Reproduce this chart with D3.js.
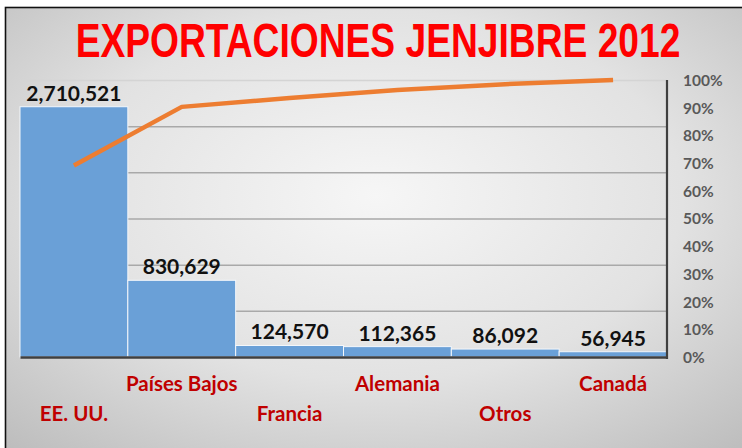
<!DOCTYPE html>
<html>
<head>
<meta charset="utf-8">
<script src="https://cdn.jsdelivr.net/npm/d3@7/dist/d3.min.js"></script>
<style>
  html, body { margin: 0; padding: 0; background: #fff; }
  svg { display: block; }
</style>
</head>
<body>
<svg id="chart" width="742" height="448"></svg>
<script>
const titleText = 'EXPORTACIONES JENJIBRE 2012'
const categories = ['EE. UU.', 'Países Bajos', 'Francia', 'Alemania', 'Otros', 'Canadá']
const exports2012 = [2710521, 830629, 124570, 112365, 86092, 56945]
const cumulativePct = [0.691, 0.903, 0.935, 0.964, 0.985, 1.0]
const leftTicks = [0, 500000, 1000000, 1500000, 2000000, 2500000, 3000000]
const rightTicks = [0, 0.1, 0.2, 0.3, 0.4, 0.5, 0.6, 0.7, 0.8, 0.9, 1.0]

const width = 742
const height = 448
const plot = { left: 20, right: 667, top: 80, bottom: 357 }

const svg = d3.select('#chart')

// background with soft radial shading
const defs = svg.append('defs')
const grad = defs.append('radialGradient')
  .attr('id', 'bg')
  .attr('cx', '50%').attr('cy', '42%').attr('r', '75%')
grad.append('stop').attr('offset', '0%').attr('stop-color', '#f6f6f6')
grad.append('stop').attr('offset', '55%').attr('stop-color', '#e2e2e2')
grad.append('stop').attr('offset', '100%').attr('stop-color', '#bdbdbd')

svg.append('rect')
  .attr('x', 5.5).attr('y', 7.5)
  .attr('width', width).attr('height', height)
  .attr('fill', 'url(#bg)')
  .attr('stroke', '#111')
  .attr('stroke-width', 1.6)

const xScale = d3.scaleBand()
  .domain(categories)
  .range([plot.left, plot.right])
  .padding(0)

const yScale = d3.scaleLinear()
  .domain([0, 3000000])
  .range([plot.bottom, plot.top])

const yPct = d3.scaleLinear()
  .domain([0, 1])
  .range([plot.bottom, plot.top])

// gridlines from the (hidden) primary axis
const yGrid = d3.axisLeft(yScale)
  .tickValues(leftTicks.slice(1))
  .tickSize(-(plot.right - plot.left))
  .tickFormat('')

svg.append('g')
  .attr('transform', `translate(${plot.left},0)`)
  .call(g => {
    g.call(yGrid)
    g.select('.domain').remove()
    g.selectAll('.tick line')
      .style('stroke', d => d === 3000000 ? '#d4d4d4' : '#a9a9a9')
      .style('stroke-width', 1.5)
  })

// bars
svg.append('g')
  .selectAll('rect')
  .data(exports2012)
  .join('rect')
  .attr('x', (d, i) => xScale(categories[i]))
  .attr('y', d => yScale(d))
  .attr('width', xScale.bandwidth())
  .attr('height', d => plot.bottom - yScale(d))
  .attr('fill', '#6aa0d7')
  .attr('stroke', '#f4f7fb')
  .attr('stroke-width', 1)

// value labels
svg.append('g')
  .selectAll('text')
  .data(exports2012)
  .join('text')
  .attr('x', (d, i) => xScale(categories[i]) + xScale.bandwidth() / 2)
  .attr('y', d => yScale(d) - 6)
  .attr('text-anchor', 'middle')
  .style('font-family', 'Lato, "Open Sans", sans-serif')
  .style('font-weight', 700)
  .style('font-size', '21px')
  .style('fill', '#111')
  .text(d => d3.format(',')(d))

// bottom axis line
const xAxis = d3.axisBottom(xScale).tickSize(0).tickFormat('')
svg.append('g')
  .attr('transform', `translate(0,${plot.bottom})`)
  .call(g => {
    g.call(xAxis)
    g.select('.domain')
      .style('stroke', '#3f3f3f')
      .style('stroke-width', 2.5)
  })

// staggered category labels
svg.append('g')
  .selectAll('text')
  .data(categories)
  .join('text')
  .attr('x', d => xScale(d) + xScale.bandwidth() / 2)
  .attr('y', (d, i) => i % 2 === 0 ? 421 : 391)
  .attr('text-anchor', 'middle')
  .style('font-family', 'Lato, "Open Sans", sans-serif')
  .style('font-weight', 700)
  .style('font-size', '20.5px')
  .style('fill', '#c00000')
  .text(d => d)

// right percentage axis
const yRightAxis = d3.axisRight(yPct)
  .tickValues(rightTicks)
  .tickSize(0)
  .tickPadding(16)
  .tickFormat(d3.format('.0%'))

svg.append('g')
  .attr('transform', `translate(${plot.right},0)`)
  .call(g => {
    g.call(yRightAxis)
    g.select('.domain')
      .attr('d', `M0,${plot.top}V${plot.bottom + 2}`)
      .style('stroke', '#3f3f3f')
      .style('stroke-width', 2.2)
    g.selectAll('.tick text')
      .attr('dy', '0.35em')
      .style('font-family', 'Lato, "Open Sans", sans-serif')
      .style('font-weight', 700)
      .style('font-size', '15.5px')
      .style('fill', '#595959')
  })

// cumulative line
const lineGenerator = d3.line()
  .x((d, i) => xScale(categories[i]) + xScale.bandwidth() / 2)
  .y(d => yPct(d))

svg.append('path')
  .datum(cumulativePct)
  .attr('d', lineGenerator)
  .attr('fill', 'none')
  .attr('stroke', '#ed7d31')
  .attr('stroke-width', 4.5)
  .attr('stroke-linejoin', 'round')

// title, squeezed horizontally to the reference width
const titleWidth = 605
const title = svg.append('text')
  .attr('x', 0)
  .attr('y', 0)
  .attr('text-anchor', 'middle')
  .style('font-family', '"Liberation Sans", Arial, sans-serif')
  .style('font-weight', 700)
  .style('font-size', '48px')
  .style('fill', '#ff0000')
  .text(titleText)
const natural = title.node().getComputedTextLength()
title.attr('transform', `translate(378,57) scale(${titleWidth / natural},1)`)
</script>
</body>
</html>
